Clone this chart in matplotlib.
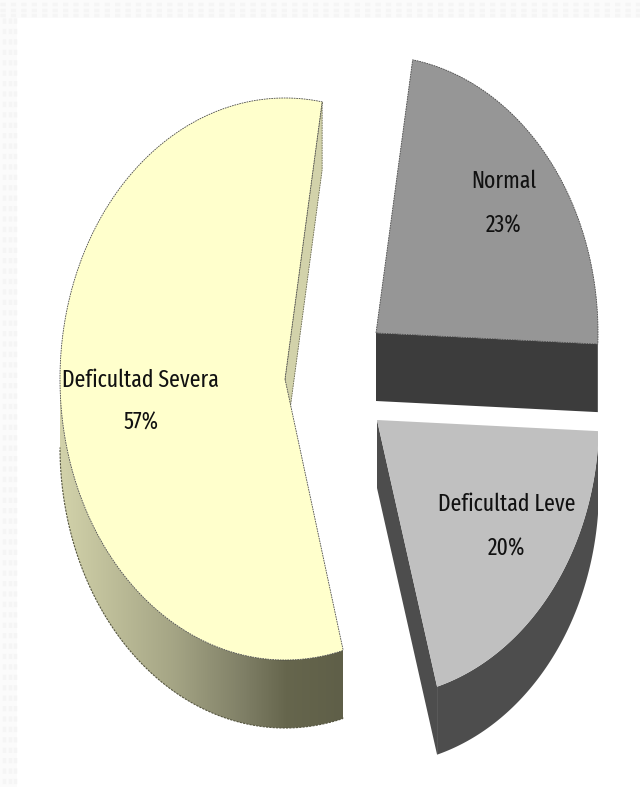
import numpy as np
import matplotlib
matplotlib.use('Agg')
import matplotlib.pyplot as plt
from matplotlib.colors import LinearSegmentedColormap
from matplotlib.patches import Polygon, Rectangle

labels = ['Normal', 'Deficultad Leve', 'Deficultad Severa']
values = [23, 20, 57]
top_colors = ['#969696', '#c0c0c0', '#ffffcc']
side_colors = ['#3c3c3c', '#4d4d4d', '#66664c']

# pie geometry, pixels
start_angle = 80.5
radii = [(222, 277), (222, 277), (225, 281)]
depth = 68
centers = [(376, 333), (377, 420), (285, 379)]
clip_right = [598, 598, 343]
name_pos = [(504, 181), (507, 504), (140, 380)]
pct_pos = [(504, 226), (507, 549), (141, 423)]


def arc(i, t0, t1):
    cx, cy = centers[i]
    rx, ry = radii[i]
    t = np.radians(np.linspace(t0, t1, 240))
    return np.minimum(cx + rx * np.cos(t), clip_right[i]), cy - ry * np.sin(t)


fig = plt.figure(figsize=(6.4, 7.87), dpi=100)
ax = fig.add_axes([0, 0, 1, 1])
ax.axis('off')

# faint textured border at the top and left
ax.add_patch(Rectangle((0, 0), 640, 18, fc='#fbfbfb', ec='none', zorder=0))
ax.add_patch(Rectangle((0, 18), 17, 769, fc='#fbfbfb', ec='none', zorder=0))
for y in [4, 10, 15]:
    ax.plot([0, 640], [y, y], color='#f5f5f5', lw=2.5, ls=(0, (1.5, 1.5)), zorder=0.1)
for x in [4, 10, 15]:
    ax.plot([x, x], [18, 787], color='#f5f5f5', lw=2.5, ls=(0, (1.5, 1.5)), zorder=0.1)

dash = (0, (2, 1))
angle = start_angle
for i, v in enumerate(values):
    sweep = v / sum(values) * 360
    t0, t1 = angle, angle - sweep
    angle = t1
    cx, cy = centers[i]
    x, y = arc(i, t0, t1)

    if labels[i] == 'Deficultad Severa':
        # shaded outer wall
        low = y > cy
        wall = Polygon(np.c_[np.r_[x[low], x[low][::-1]], np.r_[y[low], y[low][::-1] + depth]],
                       closed=True, fc='none', ec='none', transform=ax.transData)
        ax.add_patch(wall)
        cmap = LinearSegmentedColormap.from_list(
            'wall', [(0, '#d2d2aa'), (0.4, '#a5a585'), (0.65, '#7f7f66'), (0.8, '#66664d'), (1, '#5f5f48')])
        im = ax.imshow(np.linspace(0, 1, 256).reshape(1, -1), extent=(60, 343, 787, 0),
                       cmap=cmap, aspect='auto', zorder=1)
        im.set_clip_path(wall)
        ax.plot(x[low], y[low] + depth, color='#55553f', lw=0.8, ls=dash, zorder=1.5)
        # cut face seen behind the top, ends at the last point of the arc
        ax.add_patch(Polygon([(cx, cy), (x[-1], y[-1]), (x[-1], y[-1] + depth), (cx, cy + depth)],
                             closed=True, fc='#d2d2aa', ec='#66664c', lw=0.6, ls=dash, zorder=1))
    elif labels[i] == 'Normal':
        # cut face under the slice
        ax.add_patch(Polygon([(cx, cy), (x[-1], y[-1]), (x[-1], y[-1] + depth), (cx, cy + depth)],
                             closed=True, fc=side_colors[i], ec='none', zorder=1))
    else:
        # left cut face and outer wall
        ax.add_patch(Polygon([(cx, cy), (x[-1], y[-1]), (x[-1], y[-1] + depth), (cx, cy + depth)],
                             closed=True, fc=side_colors[i], ec='none', zorder=1))
        ax.add_patch(Polygon(np.c_[np.r_[x, x[::-1]], np.r_[y, y[::-1] + depth]],
                             closed=True, fc=side_colors[i], ec='none', zorder=1))

    verts = np.r_[[(cx, cy)], np.c_[x, y], [(cx, cy)]]
    outline = '#4a4a4a' if labels[i] != 'Deficultad Leve' else 'none'
    ax.add_patch(Polygon(verts, closed=True, fc=top_colors[i], ec=outline, lw=0.6, ls=dash, zorder=2))

ax.set_xlim(0, 640)
ax.set_ylim(787, 0)

txt = dict(family=['Fira Sans Extra Condensed', 'DejaVu Sans'], fontsize=17, color='#111111',
           ha='center', va='center', zorder=3, fontweight=400)
for i, lab in enumerate(labels):
    ax.text(name_pos[i][0], name_pos[i][1], lab, **txt)
    ax.text(pct_pos[i][0], pct_pos[i][1], str(values[i]) + '%', **txt)

fig.savefig('out.png', dpi=100)
